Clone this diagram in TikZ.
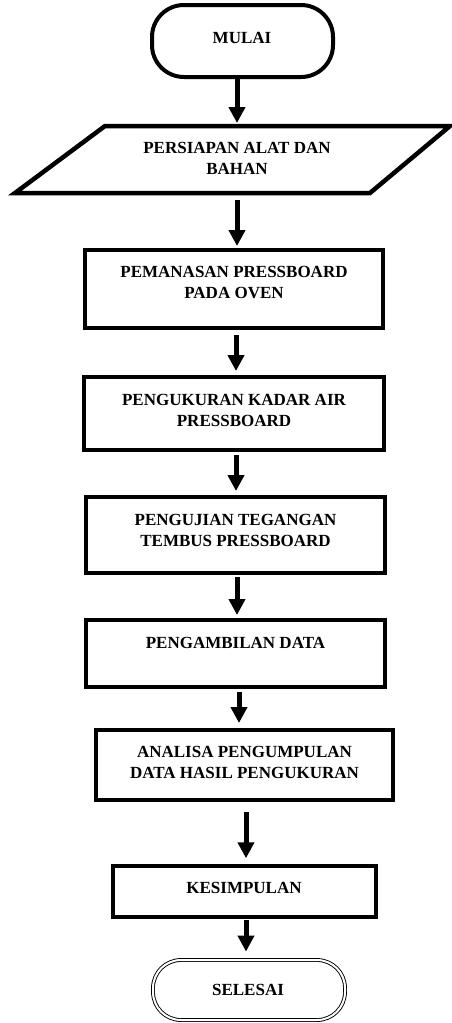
\documentclass[tikz,border=0pt]{standalone}
\usepackage{fontspec}
\setmainfont{Liberation Serif}
\usetikzlibrary{arrows.meta}
\begin{document}
\begin{tikzpicture}[x=1pt, y=-1pt,
  lbl/.style={font=\bfseries\fontsize{17}{21}\selectfont, align=center, inner sep=0pt},
  box/.style={draw, line width=4pt, inner sep=0pt},
  term/.style={draw, line width=4pt, inner sep=0pt, rounded corners=32pt},
  arr/.style={line width=5pt, -{Triangle[width=16pt,length=16pt]}}]
\useasboundingbox (0,0) rectangle (452,1023);

\node[term, minimum width=181pt, minimum height=72pt] (mulai) at (242.5, 41) {};
\node[lbl] (mulai-t) at (242, 38) {MULAI};

\draw[line width=4.5pt, line join=miter] (105,126) -- (450,126) -- (370,193) -- (15,193) -- cycle;
\coordinate (para-top) at (237, 126);
\coordinate (para-bot) at (237, 193);
\node[lbl] (persiapan) at (237, 158.5) {PERSIAPAN ALAT DAN\\BAHAN};

\node[box, minimum width=298pt, minimum height=78pt] (pemanasan) at (234, 289) {};
\node[lbl] (pemanasan-t) at (234, 282.5) {PEMANASAN PRESSBOARD\\PADA OVEN};

\node[box, minimum width=300pt, minimum height=73pt] (pengukuran) at (234, 413.5) {};
\node[lbl] (pengukuran-t) at (234, 410) {PENGUKURAN KADAR AIR\\PRESSBOARD};

\node[box, minimum width=299pt, minimum height=76pt] (pengujian) at (235.5, 535) {};
\node[lbl] (pengujian-t) at (235.5, 530.5) {PENGUJIAN TEGANGAN\\TEMBUS PRESSBOARD};

\node[box, minimum width=299pt, minimum height=67pt] (pengambilan) at (235.5, 653.5) {};
\node[lbl] (pengambilan-t) at (235.5, 643) {PENGAMBILAN DATA};

\node[box, minimum width=297pt, minimum height=70pt] (analisa) at (244.5, 765) {};
\node[lbl] (analisa-t) at (244.5, 762.5) {ANALISA PENGUMPULAN\\DATA HASIL PENGUKURAN};

\node[box, line width=3.5pt, minimum width=263pt, minimum height=51pt] (kesimpulan) at (244.5, 891.5) {};
\node[lbl] (kesimpulan-t) at (244, 888) {KESIMPULAN};

\node[draw, double, double distance=2pt, line width=0.9pt, rounded corners=28pt,
  minimum width=192pt, minimum height=60pt] (selesai) at (249, 990) {};
\node[lbl] (selesai-t) at (248, 990) {SELESAI};

\draw[arr, shorten >=3pt] ([xshift=-5.5pt]mulai.south) -- (para-top);
\draw[arr, shorten <=7pt, shorten >=2pt] (para-bot) -- ([xshift=3pt]pemanasan.north);
\draw[arr, shorten <=5pt, shorten >=4pt] ([xshift=2pt]pemanasan.south) -- ([xshift=2pt]pengukuran.north);
\draw[arr, shorten <=3pt, shorten >=4pt] ([xshift=2pt]pengukuran.south) -- ([xshift=0.5pt]pengujian.north);
\draw[arr, shorten <=2pt, shorten >=3pt] ([xshift=1.5pt]pengujian.south) -- ([xshift=1.5pt]pengambilan.north);
\draw[arr, shorten <=3pt, shorten >=5pt] ([xshift=3.5pt]pengambilan.south) -- ([xshift=-5.5pt]analisa.north);
\draw[arr, shorten <=10pt, shorten >=6pt] ([xshift=1.5pt]analisa.south) -- ([xshift=1.5pt]kesimpulan.north);
\draw[arr, shorten <=1pt, shorten >=8pt] ([xshift=1.5pt]kesimpulan.south) -- ([xshift=-3pt]selesai.north);
\end{tikzpicture}
\end{document}
